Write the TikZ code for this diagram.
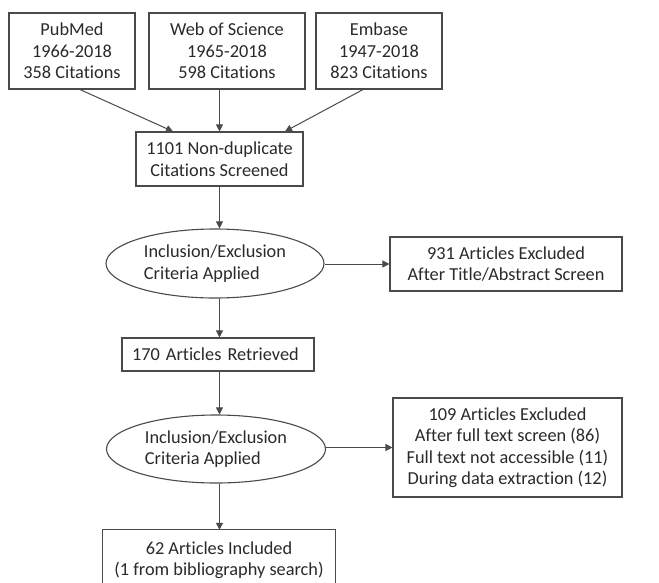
\documentclass[tikz,border=0pt]{standalone}
\usepackage{fontspec}
\setmainfont{Carlito}[RawFeature={-liga;-clig;-calt;-dlig}]
\usetikzlibrary{arrows.meta,shapes.geometric}
\definecolor{lc}{HTML}{4A4A4A}
\definecolor{tc}{HTML}{2A2A2A}
\begin{document}
\begin{tikzpicture}[x=1pt,y=-1pt,
  txt/.style={text=tc, font=\fontsize{18.3}{21.5}\selectfont, inner sep=0pt},
  box/.style={txt, draw=lc, line width=1.1pt, align=center},
  ell/.style={txt, draw=lc, line width=1.1pt, ellipse, align=left},
  arr/.style={draw=lc, line width=1pt, -{Triangle[length=7pt,width=7pt]}}]
\useasboundingbox (0,0) rectangle (659,582);
\clip (0,0) rectangle (659,582);
\fill[white] (0,0) rectangle (659,582);

\node[box, minimum width=126pt, minimum height=76pt] (pub) at (72,51) {PubMed\\1966-2018\\358 Citations};
\node[box, minimum width=156pt, minimum height=76pt] (wos) at (227,51) {Web of Science\\1965-2018\\598 Citations};
\node[box, minimum width=126pt, minimum height=76pt] (emb) at (379,51) {Embase\\1947-2018\\823 Citations};
\node[box, minimum width=167pt, minimum height=54pt] (dup) at (219.5,159) {1101 Non-duplicate\\Citations Screened};

\node[ell, minimum width=218pt, minimum height=69pt] (e1) at (215,263.5) {Inclusion/Exclusion\\Criteria Applied};
\node[box, minimum width=232pt, minimum height=54pt] (x931) at (506,264) {931 Articles Excluded\\After Title/Abstract Screen};

\node[box, align=left, text width=172pt, inner xsep=10pt, minimum height=33pt] (r170) at (218,354.5) {170 Articles Retrieved};

\node[ell, minimum width=219pt, minimum height=68pt] (e2) at (216,449) {Inclusion/Exclusion\\Criteria Applied};
\node[box, minimum width=229pt, minimum height=99pt] (x109) at (507.5,447.5) {109 Articles Excluded\\After full text screen (86)\\Full text not accessible (11)\\During data extraction (12)};

\node[txt, align=center, minimum width=232pt, minimum height=60pt] (inc) at (219,560) {62 Articles Included\\(1 from bibliography search)};
\draw[lc, line width=1.1pt] ([yshift=-20pt]inc.south west) -- (inc.north west) -- (inc.north east) -- ([yshift=-20pt]inc.south east);

\draw[arr] ([xshift=8pt]pub.south) -- ([xshift=-46.5pt]dup.north);
\draw[arr] (wos.south -| dup.north) -- (dup.north);
\draw[arr] ([xshift=-16pt]emb.south) -- ([xshift=65.5pt]dup.north);
\draw[arr] (dup.south) -- (dup.south |- e1.north);
\draw[arr] (e1.east |- x931.west) -- (x931.west);
\draw[arr] (dup.south |- e1.south) -- (dup.south |- r170.north);
\draw[arr] (dup.south |- r170.south) -- (dup.south |- e2.north);
\draw[arr] (e2.east |- x109.west) -- (x109.west);
\draw[arr] (dup.south |- e2.south) -- (dup.south |- inc.north);
\end{tikzpicture}
\end{document}
